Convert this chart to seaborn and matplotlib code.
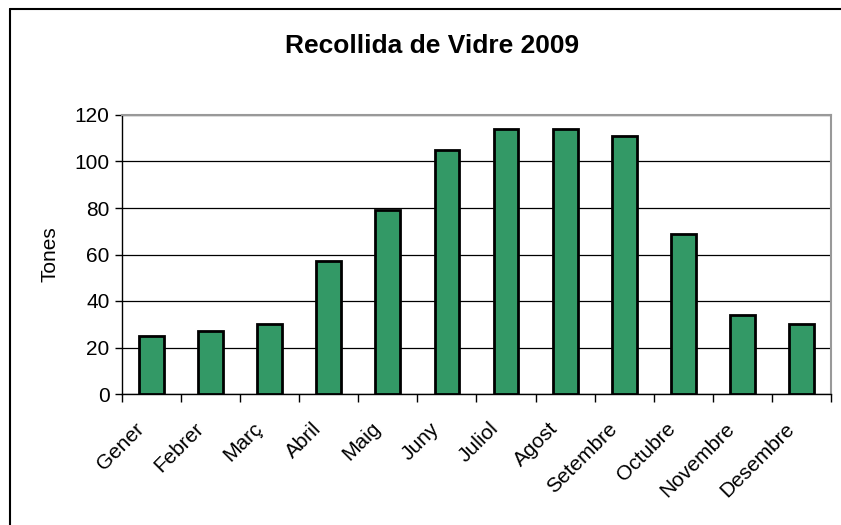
import matplotlib
matplotlib.use('Agg')
import matplotlib.pyplot as plt
from matplotlib.lines import Line2D
from matplotlib.transforms import ScaledTranslation
import pandas as pd
import seaborn as sns

# Monthly glass collection, tonnes
months = ['Gener', 'Febrer', 'Març', 'Abril', 'Maig', 'Juny', 'Juliol',
          'Agost', 'Setembre', 'Octubre', 'Novembre', 'Desembre']
tones = [25, 27, 30, 57, 79, 105, 114, 114, 111, 69, 34, 30]
y_ticks = [0, 20, 40, 60, 80, 100, 120]

df = pd.DataFrame({'mes': months, 'tones': tones})

sns.set_style('white')
plt.rcParams['font.family'] = ['Liberation Sans', 'DejaVu Sans']
plt.rcParams['text.color'] = 'black'
plt.rcParams['axes.labelcolor'] = 'black'
plt.rcParams['xtick.color'] = 'black'
plt.rcParams['ytick.color'] = 'black'

fig = plt.figure(figsize=(8.41, 5.25), dpi=100)
ax = fig.add_axes([122 / 841, 1 - 394 / 525, (831 - 122) / 841, (394 - 115) / 525])

sns.barplot(data=df, x='mes', y='tones', color='#339966', edgecolor='black',
            linewidth=2, width=0.42, saturation=1, ax=ax, zorder=3)

ax.set_xlim(-0.5, len(months) - 0.5)
ax.set_ylim(0, 120)
ax.set_yticks(y_ticks)
ax.set_yticklabels([str(t) for t in y_ticks], fontsize=15)
ax.yaxis.grid(True, color='black', linewidth=0.9, zorder=0)
ax.set_axisbelow(True)

# category labels at centres, tick marks on the boundaries
ax.set_xticks(range(len(months)))
ax.set_xticklabels(months, rotation=45, ha='right', rotation_mode='anchor', fontsize=15)
ax.set_xticks([i - 0.5 for i in range(len(months) + 1)], minor=True)
ax.tick_params(axis='x', which='major', length=0, pad=10, bottom=True)
ax.tick_params(axis='x', which='minor', length=6, width=1, color='black',
               direction='out', bottom=True)
ax.tick_params(axis='y', length=5, width=1, color='black', direction='out', left=True, pad=4)

# nudge the rotated labels down-left like Excel does
shift = ScaledTranslation(-0.17, -0.11, fig.dpi_scale_trans)
for lab in ax.get_xticklabels():
    lab.set_transform(lab.get_transform() + shift)

ax.set_xlabel('')
ax.set_ylabel('Tones', fontsize=15, labelpad=11)

for side in ['top', 'right']:
    ax.spines[side].set_color('#999999')
    ax.spines[side].set_linewidth(1.5)
for side in ['left', 'bottom']:
    ax.spines[side].set_color('black')
    ax.spines[side].set_linewidth(1)

fig.text(432 / 841, 1 - 46 / 525, 'Recollida de Vidre 2009', ha='center', va='center',
         fontsize=19, fontweight='bold')

# chart area border (only top and left visible in the crop)
fig.add_artist(Line2D([9.5 / 841, 9.5 / 841], [0, 1 - 9 / 525], transform=fig.transFigure,
                      color='black', linewidth=1.5))
fig.add_artist(Line2D([9.5 / 841, 1], [1 - 9 / 525, 1 - 9 / 525], transform=fig.transFigure,
                      color='black', linewidth=1.5))

fig.savefig('out.png', dpi=100, facecolor='white')
